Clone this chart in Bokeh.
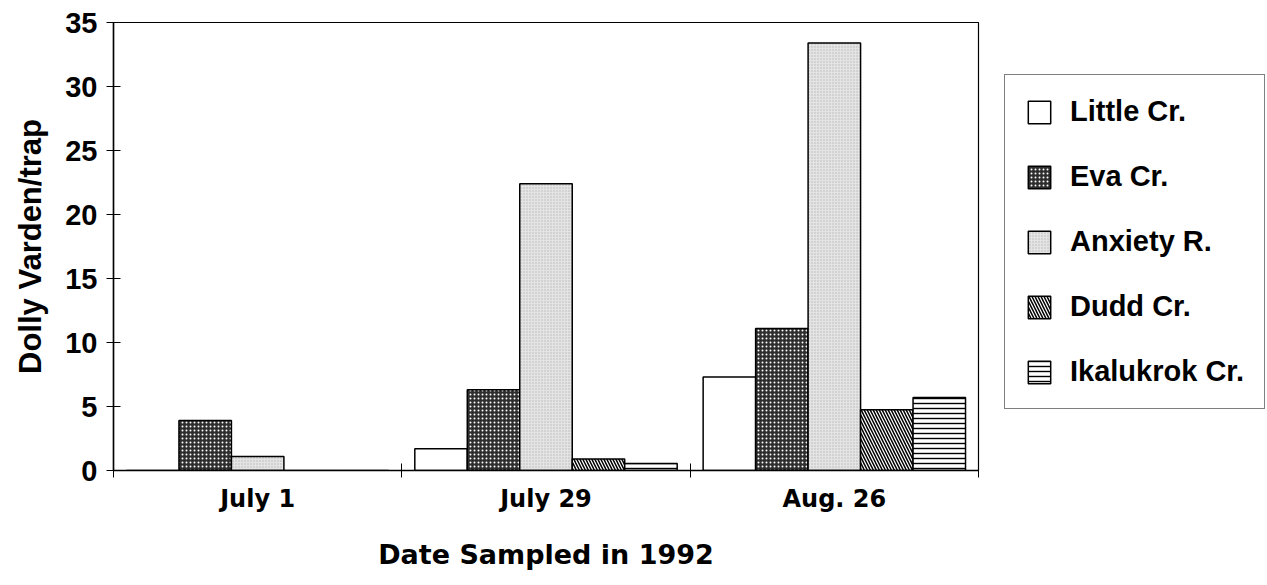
from bokeh.plotting import figure
from bokeh.models import ColumnDataSource, Legend, LegendItem, FixedTicker, Range1d
from bokeh.transform import dodge
from bokeh.embed import file_html
from bokeh.resources import INLINE

# ---- data ----
dates = ["July 1", "July 29", "Aug. 26"]
little = [0.0, 1.7, 7.3]
eva = [3.9, 6.3, 11.1]
anxiety = [1.1, 22.4, 33.4]
dudd = [0.0, 0.9, 4.75]
ikalukrok = [0.0, 0.55, 5.7]
series_names = ["Little Cr.", "Eva Cr.", "Anxiety R.", "Dudd Cr.", "Ikalukrok Cr."]
y_ticks = [0, 5, 10, 15, 20, 25, 30, 35]

centers = [i + 0.5 for i in range(len(dates))]
source = ColumnDataSource(dict(x=centers, little=little, eva=eva, anxiety=anxiety,
                               dudd=dudd, ikalukrok=ikalukrok))

p = figure(frame_width=865, frame_height=448, output_backend="svg", toolbar_location=None,
           x_range=Range1d(0, len(dates)), y_range=Range1d(0, 35),
           min_border_left=113, min_border_right=0, min_border_top=22,
           min_border_bottom=115)

p.xgrid.visible = False
p.ygrid.visible = False
p.outline_line_color = "black"
p.outline_line_width = 1.2
p.background_fill_color = "white"
p.border_fill_color = "white"

bw = 0.182
styles = [
    dict(fill_color="white"),
    dict(fill_color="#2e2e2e", hatch_pattern="dot", hatch_color="white", hatch_scale=4, hatch_weight=1.3),
    dict(fill_color="#e4e4e4", hatch_pattern="dot", hatch_color="#b5b5b5", hatch_scale=3, hatch_weight=0.8),
    dict(fill_color="white", hatch_pattern="left_diagonal_line", hatch_color="black", hatch_scale=6, hatch_weight=1.5),
    dict(fill_color="white", hatch_pattern="horizontal_line", hatch_color="black", hatch_scale=5, hatch_weight=1.4),
]
cols = ["little", "eva", "anxiety", "dudd", "ikalukrok"]
offsets = [-2 * bw, -bw, 0, bw, 2 * bw]
renderers = []
for col, off, st in zip(cols, offsets, styles):
    r = p.vbar(x=dodge("x", off, range=p.x_range), top=col, width=bw, source=source,
               line_color="black", line_width=1.5, **st)
    renderers.append(r)

# x axis: labels at centers, crossing ticks at boundaries
xa = p.xaxis[0]
xa.ticker = FixedTicker(ticks=centers, minor_ticks=list(range(len(dates) + 1)))
xa.major_label_overrides = {c: d for c, d in zip(centers, dates)}
xa.major_tick_in = 0
xa.major_tick_out = 0
xa.minor_tick_in = 7
xa.minor_tick_out = 7
xa.minor_tick_line_color = "black"
xa.axis_line_color = "black"
xa.axis_line_width = 1.5
xa.major_label_text_font = "DejaVu Sans"
xa.major_label_text_font_style = "bold"
xa.major_label_text_font_size = "24px"
xa.major_label_text_color = "black"
xa.major_label_standoff = 7
xa.axis_label = "Date Sampled in 1992"
xa.axis_label_text_font = "DejaVu Sans"
xa.axis_label_text_font_style = "bold"
xa.axis_label_text_font_size = "27px"
xa.axis_label_text_color = "black"
xa.axis_label_standoff = 23

ya = p.yaxis[0]
ya.ticker = FixedTicker(ticks=y_ticks)
ya.minor_tick_line_color = None
ya.major_tick_in = 7
ya.major_tick_out = 7
ya.major_tick_line_color = "black"
ya.axis_line_color = "black"
ya.axis_line_width = 1.5
ya.major_label_text_font = "Liberation Sans"
ya.major_label_text_font_style = "bold"
ya.major_label_text_font_size = "29px"
ya.major_label_text_color = "black"
ya.major_label_standoff = 9
ya.axis_label = "Dolly Varden/trap"
ya.axis_label_text_font = "Liberation Sans"
ya.axis_label_text_font_style = "bold"
ya.axis_label_text_font_size = "31px"
ya.axis_label_text_color = "black"
ya.axis_label_standoff = 14

legend = Legend(items=[LegendItem(label=n, renderers=[r]) for n, r in zip(series_names, renderers)],
                location=(26, 61))
legend.label_text_font = "Liberation Sans"
legend.label_text_font_style = "bold"
legend.label_text_font_size = "29px"
legend.label_text_color = "black"
legend.glyph_width = 28
legend.glyph_height = 28
legend.label_height = 28
legend.label_width = 174
legend.label_standoff = 17
legend.spacing = 32
legend.padding = 20
legend.margin = 0
legend.border_line_color = "black"
legend.border_line_width = 1.2
legend.background_fill_color = "white"
legend.background_fill_alpha = 1
p.add_layout(legend, "right")

open("out.html", "w").write(file_html(p, INLINE))
